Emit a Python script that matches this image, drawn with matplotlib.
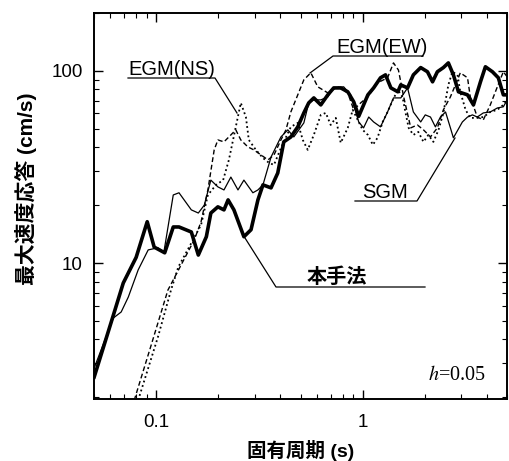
import numpy as np
import matplotlib
matplotlib.use("Agg")
import matplotlib.pyplot as plt
from matplotlib.ticker import FixedLocator, LogLocator, NullFormatter

plt.rcParams['font.family'] = ['Liberation Sans', 'Noto Sans CJK JP']
plt.rcParams['mathtext.fontset'] = 'stix'

# velocity response spectra, h=0.05 (period in s, peak velocity in cm/s)
prop_T = [0.0501, 0.0606, 0.0693, 0.0800, 0.0905, 0.0978, 0.110, 0.121, 0.129, 0.148,
          0.160, 0.175, 0.184, 0.199, 0.213, 0.223, 0.238, 0.266, 0.288, 0.311,
          0.329, 0.360, 0.388, 0.415, 0.449, 0.485, 0.519, 0.548, 0.580, 0.627,
          0.678, 0.724, 0.783, 0.847, 0.905, 0.957, 1.06, 1.13, 1.22, 1.29,
          1.37, 1.48, 1.53, 1.65, 1.76, 1.91, 2.06, 2.18, 2.30, 2.46,
          2.60, 2.75, 2.91, 3.22, 3.44, 3.72, 3.93, 4.25, 4.54, 4.80, 5.01]
prop_V = [2.55, 4.93, 7.87, 10.7, 16.4, 12.1, 11.3, 15.4, 15.4, 14.5,
          11.0, 13.7, 18.2, 19.6, 18.9, 21.3, 18.9, 13.7, 14.9, 21.3,
          25.5, 24.6, 29.4, 42.7, 45.3, 51.1, 60.4, 68.1, 72.3, 66.5,
          75.0, 81.5, 81.5, 77.8, 69.0, 58.0, 75.0, 81.5, 92.0, 95.3,
          81.5, 77.8, 84.5, 81.5, 95.3, 104, 98.9, 87.7, 98.9, 104,
          110, 95.3, 77.8, 75.0, 66.5, 87.7, 105, 98.9, 92.0, 75.0, 75.0]

sgm_T = [0.0501, 0.0525, 0.0620, 0.0677, 0.0733, 0.0818, 0.0915, 0.102, 0.109, 0.121,
         0.129, 0.148, 0.160, 0.171, 0.184, 0.199, 0.213, 0.230, 0.249, 0.266,
         0.294, 0.311, 0.329, 0.360, 0.402, 0.434, 0.464, 0.519, 0.548, 0.580,
         0.627, 0.678, 0.724, 0.809, 0.875, 0.905, 0.957, 1.01, 1.07, 1.13,
         1.22, 1.32, 1.41, 1.53, 1.65, 1.76, 1.91, 2.01, 2.13, 2.25,
         2.38, 2.52, 2.66, 2.75, 3.04, 3.22, 3.40, 3.59, 3.84, 4.15,
         4.49, 4.80, 5.01]
sgm_V = [2.84, 3.24, 5.17, 5.56, 6.65, 9.20, 11.7, 12.0, 11.4, 22.6,
         23.2, 18.9, 18.2, 20.0, 27.0, 24.9, 24.0, 28.0, 24.0, 27.0,
         23.2, 24.0, 25.5, 35.6, 45.3, 49.3, 45.3, 53.6, 68.1, 70.6,
         70.6, 73.2, 81.5, 82.6, 75.0, 66.5, 54.2, 50.5, 57.5, 54.2,
         51.1, 61.1, 72.3, 72.3, 81.5, 61.1, 54.2, 59.0, 57.5, 51.1,
         57.5, 61.1, 50.5, 44.8, 54.2, 57.5, 59.0, 57.5, 60.4, 61.1,
         64.1, 65.0, 70.6]

ew_T = [0.0783, 0.0946, 0.114, 0.132, 0.153, 0.165, 0.178, 0.191, 0.199, 0.213,
        0.230, 0.243, 0.257, 0.278, 0.297, 0.322, 0.348, 0.372, 0.402, 0.425,
        0.449, 0.485, 0.519, 0.561, 0.606, 0.678, 0.757, 0.847, 0.905, 0.978,
        1.06, 1.18, 1.32, 1.41, 1.49, 1.58, 1.71, 1.84, 1.97, 2.13,
        2.30, 2.46, 2.66, 2.88, 2.97, 3.22, 3.32, 3.59, 3.84, 4.15,
        4.49, 4.80, 5.01]
ew_V = [1.93, 3.74, 7.23, 9.76, 13.2, 16.4, 24.0, 38.8, 43.7, 42.7,
        46.4, 49.3, 43.7, 40.2, 38.8, 36.5, 34.4, 36.5, 43.7, 49.3,
        61.1, 75.0, 89.8, 97.7, 82.6, 76.8, 82.6, 76.8, 62.7, 68.1,
        73.2, 86.6, 92.0, 110, 101, 73.2, 50.5, 52.3, 49.3, 45.3,
        50.5, 62.7, 73.2, 89.8, 97.7, 92.0, 73.2, 57.5, 55.6, 66.5,
        82.6, 98.9, 93.1]

ns_T = [0.0818, 0.102, 0.118, 0.128, 0.148, 0.165, 0.178, 0.195, 0.211, 0.225,
        0.243, 0.257, 0.272, 0.281, 0.304, 0.329, 0.352, 0.372, 0.402, 0.449,
        0.485, 0.513, 0.542, 0.580, 0.627, 0.663, 0.700, 0.741, 0.783, 0.847,
        0.895, 0.946, 1.00, 1.06, 1.12, 1.18, 1.25, 1.32, 1.40, 1.48,
        1.56, 1.61, 1.67, 1.76, 1.86, 1.97, 2.08, 2.20, 2.33, 2.46,
        2.60, 2.72, 2.88, 2.97, 3.15, 3.32, 3.59, 3.84, 4.15, 4.49,
        4.80, 5.01]
ns_V = [1.93, 4.12, 7.23, 9.53, 12.7, 15.8, 22.6, 25.5, 27.0, 34.4,
        51.1, 68.1, 57.5, 43.7, 38.8, 35.2, 33.2, 32.4, 39.7, 51.1,
        53.6, 43.7, 38.8, 46.4, 59.0, 60.4, 52.3, 56.9, 42.2, 50.5,
        62.7, 55.6, 49.3, 46.4, 41.2, 44.8, 54.2, 61.1, 70.6, 79.6,
        73.2, 61.1, 50.5, 46.4, 48.1, 42.7, 46.4, 42.7, 49.3, 60.4,
        84.5, 98.9, 95.3, 77.8, 62.7, 56.9, 56.9, 57.5, 61.1, 62.7,
        66.5, 70.6]

W, H = 509, 461
fig = plt.figure(figsize=(W / 100, H / 100), dpi=100)
ax = fig.add_axes([94 / W, (H - 399) / H, 413 / W, 386 / H])


def fxy(px, py):
    # figure pixel (top-left origin) -> figure fraction
    return px / W, 1 - py / H


ax.plot(ns_T, ns_V, color='black', lw=1.3, ls=(0, (1, 1.6)))
ax.plot(ew_T, ew_V, color='black', lw=1.0, ls=(0, (3.5, 2)))
ax.plot(sgm_T, sgm_V, color='black', lw=0.9)
ax.plot(prop_T, prop_V, color='black', lw=2.6, solid_joinstyle='round')

ax.set_xscale('log')
ax.set_yscale('log')
ax.set_xlim(0.05, 5.0)
ax.set_ylim(1.96, 200)

ax.xaxis.set_major_locator(FixedLocator([0.1, 1]))
ax.yaxis.set_major_locator(FixedLocator([10, 100]))
ax.set_xticklabels(['0.1', '1'])
ax.set_yticklabels(['10', '100'])
ax.xaxis.set_minor_locator(LogLocator(base=10, subs=np.arange(2, 10)))
ax.yaxis.set_minor_locator(LogLocator(base=10, subs=np.arange(2, 10)))
ax.xaxis.set_minor_formatter(NullFormatter())
ax.yaxis.set_minor_formatter(NullFormatter())
ax.tick_params(which='both', direction='in', top=True, right=True, labelsize=13.5)
ax.tick_params(which='major', length=6.5, width=1.0)
ax.tick_params(which='minor', length=3.5, width=0.8)
ax.tick_params(axis='x', pad=11)
ax.tick_params(axis='y', pad=8)
for s in ax.spines.values():
    s.set_linewidth(1.4)

ax.set_xlabel('固有周期 (s)', fontsize=14, fontweight='bold', labelpad=6)
ax.set_ylabel('最大速度応答 (cm/s)', fontsize=15, fontweight='bold')
ax.yaxis.set_label_coords(-0.138, 0.545)

# curve labels with underline and leader
labels = [
    ('EGM(NS)', 172, 75, [(128, 78), (215, 78), (237, 113)], 'normal'),
    ('EGM(EW)', 382, 53, [(423, 56), (333, 56), (310, 73)], 'normal'),
    ('SGM', 385, 198, [(355, 201), (417, 201), (455, 138)], 'normal'),
    ('本手法', 337, 283, [(425, 287), (276, 287), (245, 238)], 'bold'),
]
for txt, tx, ty, path, weight in labels:
    x, y = fxy(tx, ty)
    fig.text(x, y, txt, ha='center', va='baseline', fontsize=14.5, fontweight=weight)
    pts = [fxy(px, py) for px, py in path]
    fig.add_artist(plt.Line2D([p[0] for p in pts], [p[1] for p in pts],
                              color='black', lw=0.9))

x, y = fxy(486, 375)
fig.text(x, y, r'$h$=0.05', ha='right', va='center', fontsize=14.5,
         family='Liberation Serif')

fig.savefig('out.png', dpi=100)
